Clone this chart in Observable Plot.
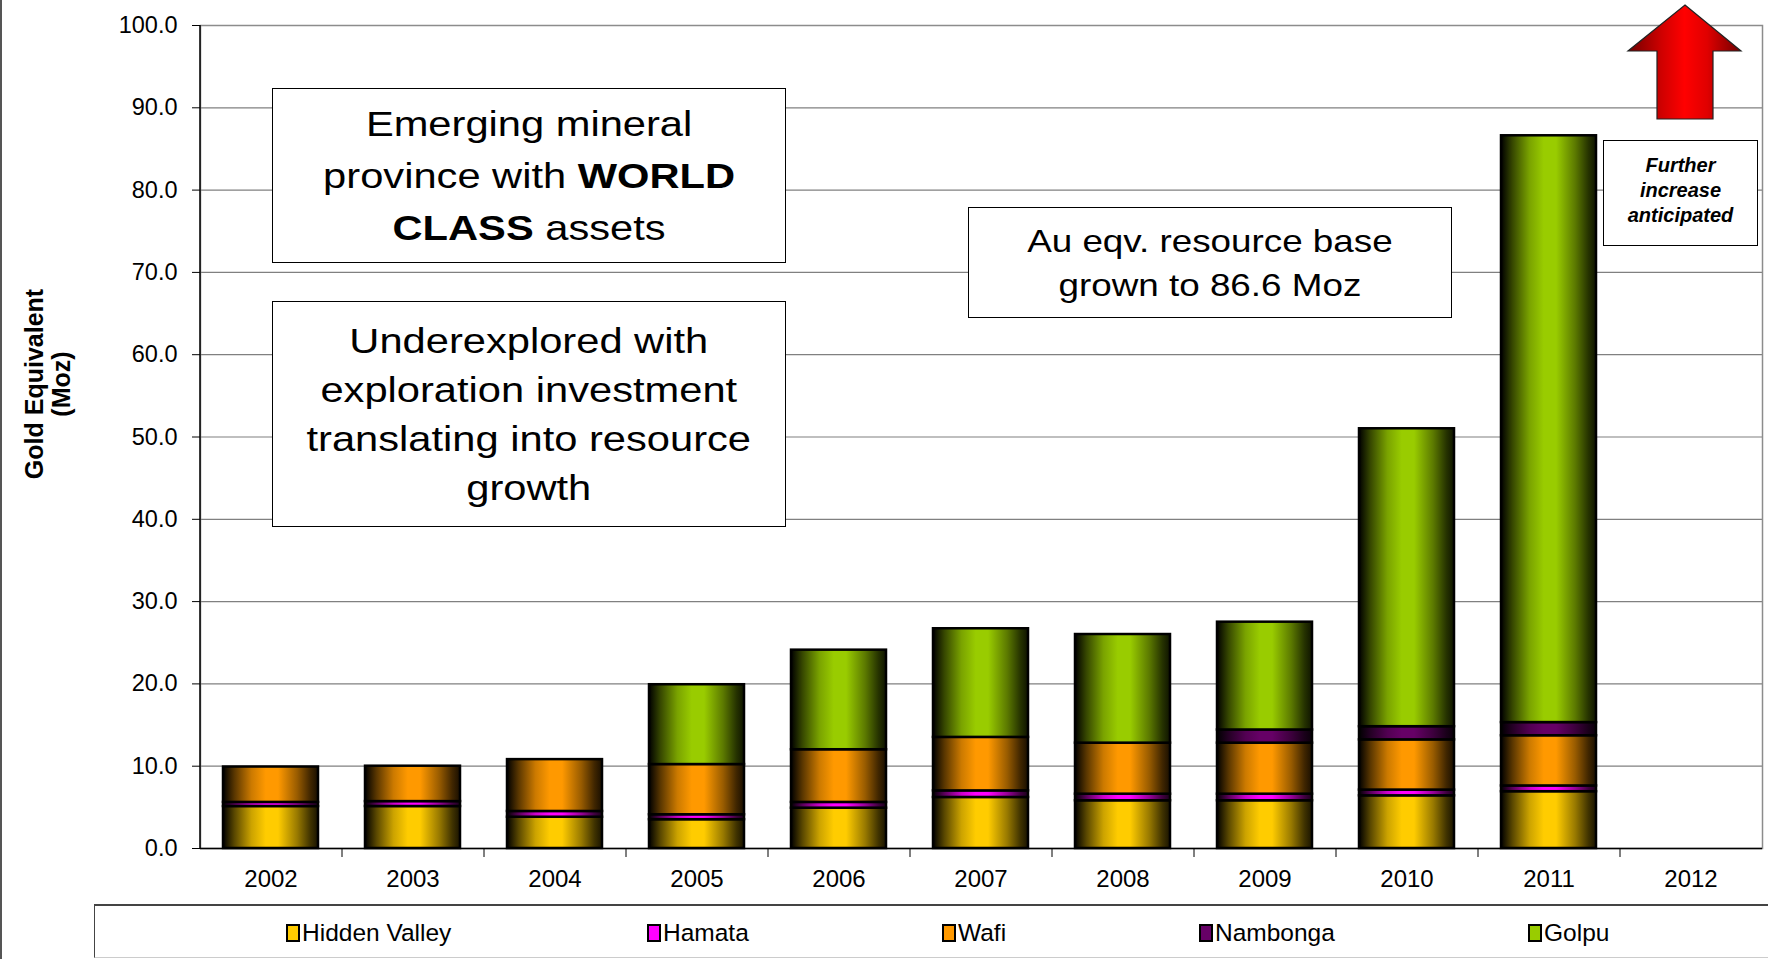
<!DOCTYPE html>
<html>
<head>
<meta charset="utf-8">
<script src="https://cdn.jsdelivr.net/npm/d3@7"></script>
<script src="https://cdn.jsdelivr.net/npm/@observablehq/plot@0.6"></script>
<style>
  html, body { margin: 0; padding: 0; background: #fff; }
  #wrap { position: relative; width: 1768px; height: 959px; overflow: hidden; font-family: "Liberation Sans", Arial, sans-serif; color: #000; }
  #chart { position: absolute; left: 0; top: 0; }
  .box { position: absolute; box-sizing: border-box; border: 1.5px solid #000; background: #fff;
         display: flex; align-items: center; justify-content: center; text-align: center; }
  .box span { display: inline-block; white-space: nowrap; transform-origin: center; }
  #ytitle { position: absolute; width: 300px; height: 60px; left: -102px; top: 354px; transform: rotate(-90deg);
            display: flex; align-items: center; justify-content: center; text-align: center;
            font-weight: bold; font-size: 25px; line-height: 27px; }
  #legend { position: absolute; left: 94px; top: 904px; width: 1700px; height: 54px; box-sizing: border-box;
            border-top: 2px solid #444; border-left: 1px solid #444; border-bottom: 1px solid #ccc; background: #fff; }
  .litem { position: absolute; top: 0; height: 54px; display: flex; align-items: center; font-size: 24.5px; }
  .lsw { width: 10px; height: 14px; border: 2px solid #000; margin-right: 2px; box-sizing: content-box; }
  #leftline { position: absolute; left: 0; top: 0; width: 2px; height: 959px; background: #555; }
</style>
</head>
<body>
<div id="wrap">
  <div id="chart"></div>
  <div id="leftline"></div>
  <div id="ytitle"><div>Gold Equivalent<br>(Moz)</div></div>
  <div class="box" style="left:272px;top:88px;width:514px;height:175px;font-size:35px;line-height:52px;">
    <span style="transform:scaleX(1.19)">Emerging mineral<br>province with <b>WORLD</b><br><b>CLASS</b> assets</span>
  </div>
  <div class="box" style="left:272px;top:301px;width:514px;height:226px;font-size:35px;line-height:49px;">
    <span style="transform:scaleX(1.19)">Underexplored with<br>exploration investment<br>translating into resource<br>growth</span>
  </div>
  <div class="box" style="left:968px;top:207px;width:484px;height:111px;font-size:32px;line-height:44px;">
    <span style="transform:scaleX(1.15)">Au eqv. resource base<br>grown to 86.6 Moz</span>
  </div>
  <div class="box" style="left:1603px;top:140px;width:155px;height:106px;font-size:20px;line-height:25px;font-weight:bold;font-style:italic;padding-bottom:6px;">
    <span>Further<br>increase<br>anticipated</span>
  </div>
  <svg id="arrow" width="1768" height="130" style="position:absolute;left:0;top:0;">
    <defs>
      <linearGradient id="redgrad" x1="0" x2="1" y1="0" y2="0">
        <stop offset="0" stop-color="#700000"/>
        <stop offset="0.3" stop-color="#d00000"/>
        <stop offset="0.5" stop-color="#ff0000"/>
        <stop offset="0.7" stop-color="#e00000"/>
        <stop offset="1" stop-color="#700000"/>
      </linearGradient>
    </defs>
    <polygon points="1685,5 1741,51 1713,51 1713,119 1657,119 1657,51 1628,51" fill="url(#redgrad)" stroke="#222" stroke-width="1.2"/>
  </svg>
  <div id="legend"></div>
</div>
<script>
const years = ["2002","2003","2004","2005","2006","2007","2008","2009","2010","2011","2012"];
const seriesNames = ["Hidden Valley","Hamata","Wafi","Nambonga","Golpu"];
const seriesColors = ["#FFCC00","#FF00FF","#FF9900","#660066","#99CC00"];
const hiddenValley = [5.1, 5.1, 3.8, 3.5, 4.9, 6.2, 5.8, 5.8, 6.4, 6.9, 0];
const hamata       = [0.5, 0.6, 0.7, 0.6, 0.7, 0.8, 0.8, 0.8, 0.7, 0.7, 0];
const wafi         = [4.3, 4.3, 6.3, 6.1, 6.4, 6.5, 6.2, 6.2, 6.1, 6.1, 0];
const nambonga     = [0, 0, 0, 0, 0, 0, 0, 1.6, 1.6, 1.6, 0];
const golpu        = [0, 0, 0, 9.7, 12.1, 13.2, 13.2, 13.1, 36.2, 71.3, 0];
const yTicks = [0, 10, 20, 30, 40, 50, 60, 70, 80, 90, 100];

const seriesValues = [hiddenValley, hamata, wafi, nambonga, golpu];
const rows = [];
seriesNames.forEach((name, s) => {
  years.forEach((year, i) => {
    const v = seriesValues[s][i];
    if (v > 0) rows.push({year, series: name, value: v});
  });
});

const W = 1768, H = 904, ML = 200, MR = 6, MT = 25, MB = 56;
const step = (W - ML - MR) / years.length;

const chart = Plot.plot({
  width: W, height: H,
  marginLeft: ML, marginRight: MR, marginTop: MT, marginBottom: MB,
  style: {fontFamily: "'Liberation Sans', Arial, sans-serif", fontSize: "23px", color: "#000", background: "transparent", overflow: "visible"},
  x: {domain: years, paddingInner: 0.33, paddingOuter: 0.165, label: null},
  y: {domain: [0, 100], label: null},
  color: {type: "identity"},
  marks: [
    Plot.gridY(yTicks.filter(v => v > 0 && v < 100), {stroke: "#808080", strokeOpacity: 1, strokeWidth: 1.2}),
    Plot.frame({stroke: "#8c8c8c", strokeWidth: 1.5}),
    Plot.barY(rows, {
      x: "year", y: "value", z: "series",
      fill: d => `url(#grad-${seriesNames.indexOf(d.series)})`,
      stroke: "#000", strokeWidth: 2.5
    }),
    Plot.ruleY([0], {stroke: "#000", strokeWidth: 1.5}),
    Plot.ruleX([years[0]], {y1: 0, y2: 100, dx: -step / 2, stroke: "#000", strokeWidth: 1.5}),
    Plot.ruleX(years.slice(1), {y1: 0, y2: 0, insetBottom: -9, dx: -step / 2, stroke: "#000", strokeWidth: 1}),
    Plot.axisY(yTicks, {tickFormat: d3.format(".1f"), tickSize: 8, tickPadding: 15, fontSize: 23.5, label: null}),
    Plot.axisX({tickSize: 0, tickPadding: 21, fontSize: 24, label: null})
  ]
});

// horizontal cylinder-like gradients for bars
const defs = d3.select(chart).insert("defs", ":first-child");
const stops = [[0, 0], [0.12, 0.35], [0.3, 0.8], [0.45, 1], [0.58, 1], [0.78, 0.6], [0.92, 0.25], [1, 0.1]];
seriesColors.forEach((c, i) => {
  const g = defs.append("linearGradient").attr("id", `grad-${i}`)
    .attr("x1", 0).attr("x2", 1).attr("y1", 0).attr("y2", 0);
  const interp = d3.interpolateRgb("#000000", c);
  stops.forEach(([o, t]) => g.append("stop").attr("offset", o).attr("stop-color", interp(t)));
});

document.getElementById("chart").appendChild(chart);

// legend
const legendLeft = [285, 646, 941, 1198, 1527];
const legend = document.getElementById("legend");
seriesNames.forEach((name, i) => {
  const item = document.createElement("div");
  item.className = "litem";
  item.style.left = (legendLeft[i] - 94) + "px";
  const sw = document.createElement("div");
  sw.className = "lsw";
  sw.style.background = seriesColors[i];
  item.appendChild(sw);
  const t = document.createElement("span");
  t.textContent = name;
  item.appendChild(t);
  legend.appendChild(item);
});
</script>
</body>
</html>
